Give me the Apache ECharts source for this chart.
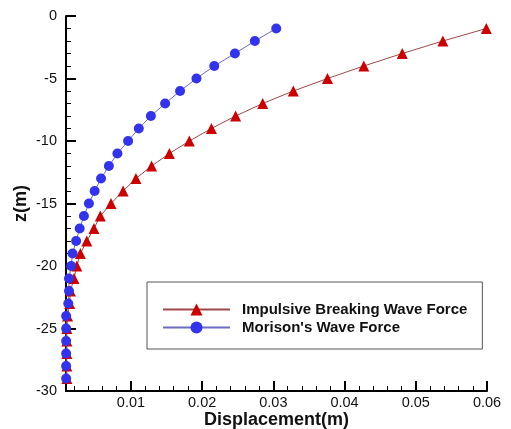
<!DOCTYPE html>
<html>
<head>
<meta charset="utf-8">
<script src="https://cdn.jsdelivr.net/npm/echarts@6/dist/echarts.min.js"></script>
<style>html,body{margin:0;padding:0;background:#fff}#c{width:511px;height:429px}</style>
</head>
<body>
<div id="c"></div>
<script>
var depths = [-1,-2,-3,-4,-5,-6,-7,-8,-9,-10,-11,-12,-13,-14,-15,-16,-17,-18,-19,-20,-21,-22,-23,-24,-25,-26,-27,-28,-29];
var impulsive = [0.0599,0.0538,0.0481,0.0427,0.0376,0.0328,0.0285,0.0247,0.0213,0.0182,0.0154,0.0129,0.0107,0.0089,0.0072,0.0057,0.0048,0.0038,0.0029,0.0024,0.0020,0.0015,0.0014,0.0011,0.0010,0.0010,0.0010,0.0010,0.0010];
var morison = [0.0304,0.0274,0.0246,0.0217,0.0192,0.0169,0.0148,0.0128,0.0111,0.0096,0.0081,0.0069,0.0058,0.0049,0.0041,0.0034,0.0028,0.0023,0.0018,0.0016,0.0013,0.0013,0.0012,0.0009,0.0009,0.0009,0.0009,0.0009,0.0009];
var xMajorTicks = [0.01,0.02,0.03,0.04,0.05,0.06];
var xMinorTicks = [0.002,0.004,0.006,0.008,0.012,0.014,0.016,0.018,0.022,0.024,0.026,0.028,0.032,0.034,0.036,0.038,0.042,0.044,0.046,0.048,0.052,0.054,0.056,0.058];
var seriesNames = ["Impulsive Breaking Wave Force", "Morison's Wave Force"];

function pairs(xs){ return xs.map(function(v,i){ return [v, depths[i]]; }); }

var FONT = 'Liberation Sans, Arial, sans-serif';
var xMin = 0.00088, xMax = 0.06;
var chart = echarts.init(document.getElementById('c'), null, {renderer:'canvas'});
chart.setOption({
  animation: false,
  backgroundColor: '#fff',
  grid: {left: 66, right: 24, top: 16, bottom: 38, outerBoundsMode: 'none', containLabel: false},
  legend: {
    orient: 'vertical', left: 147, top: 282,
    padding: [20, 15, 14, 15],
    borderColor: '#555', borderWidth: 1,
    itemWidth: 67, itemHeight: 15, itemGap: 3,
    textStyle: {fontFamily: FONT, fontSize: 15, fontWeight: 'bold', color: '#111', padding: [0,0,0,7]},
    data: seriesNames
  },
  xAxis: [{
    type: 'value', min: xMin, max: xMax,
    name: 'Displacement(m)', nameLocation: 'middle', nameGap: 20, nameMoveOverlap: false,
    nameTextStyle: {fontFamily: FONT, fontSize: 18, fontWeight: 'bold', color: '#111'},
    axisLine: {onZero: false, lineStyle: {color: '#000', width: 2}},
    axisTick: {show: true, inside: true, length: 10, customValues: xMajorTicks, lineStyle: {color: '#000', width: 2}},
    axisLabel: {customValues: xMajorTicks, margin: 4, fontFamily: FONT, fontSize: 14.5, color: '#111',
      formatter: function(v){ return v.toFixed(2); }},
    splitLine: {show: false}
  }, {
    type: 'value', min: xMin, max: xMax, position: 'bottom',
    axisLine: {show: false, onZero: false},
    axisTick: {show: true, inside: true, length: 5, customValues: xMinorTicks, lineStyle: {color: '#000', width: 1}},
    axisLabel: {show: false},
    splitLine: {show: false}
  }],
  yAxis: {
    type: 'value', min: -30, max: 0, interval: 5,
    name: 'z(m)', nameLocation: 'middle', nameGap: 36, nameRotate: 90, nameMoveOverlap: false,
    nameTextStyle: {fontFamily: FONT, fontSize: 18, fontWeight: 'bold', color: '#111'},
    axisLine: {show: true, onZero: false, lineStyle: {color: '#000', width: 2}},
    axisTick: {show: true, inside: true, length: 10, lineStyle: {color: '#000', width: 2}},
    minorTick: {show: true, splitNumber: 5, length: 5, lineStyle: {color: '#000', width: 1}},
    axisLabel: {margin: 9, fontFamily: FONT, fontSize: 14.5, color: '#111'},
    splitLine: {show: false}
  },
  series: [{
    name: seriesNames[0], type: 'line', xAxisIndex: 0,
    data: pairs(impulsive),
    symbol: 'triangle', symbolSize: 11,
    lineStyle: {color: '#a04848', width: 1},
    itemStyle: {color: '#cc0000'}
  }, {
    name: seriesNames[1], type: 'line', xAxisIndex: 0,
    data: pairs(morison),
    symbol: 'circle', symbolSize: 10,
    lineStyle: {color: '#6c6cc0', width: 1},
    itemStyle: {color: '#3333ee'}
  }]
});
</script>
</body>
</html>
